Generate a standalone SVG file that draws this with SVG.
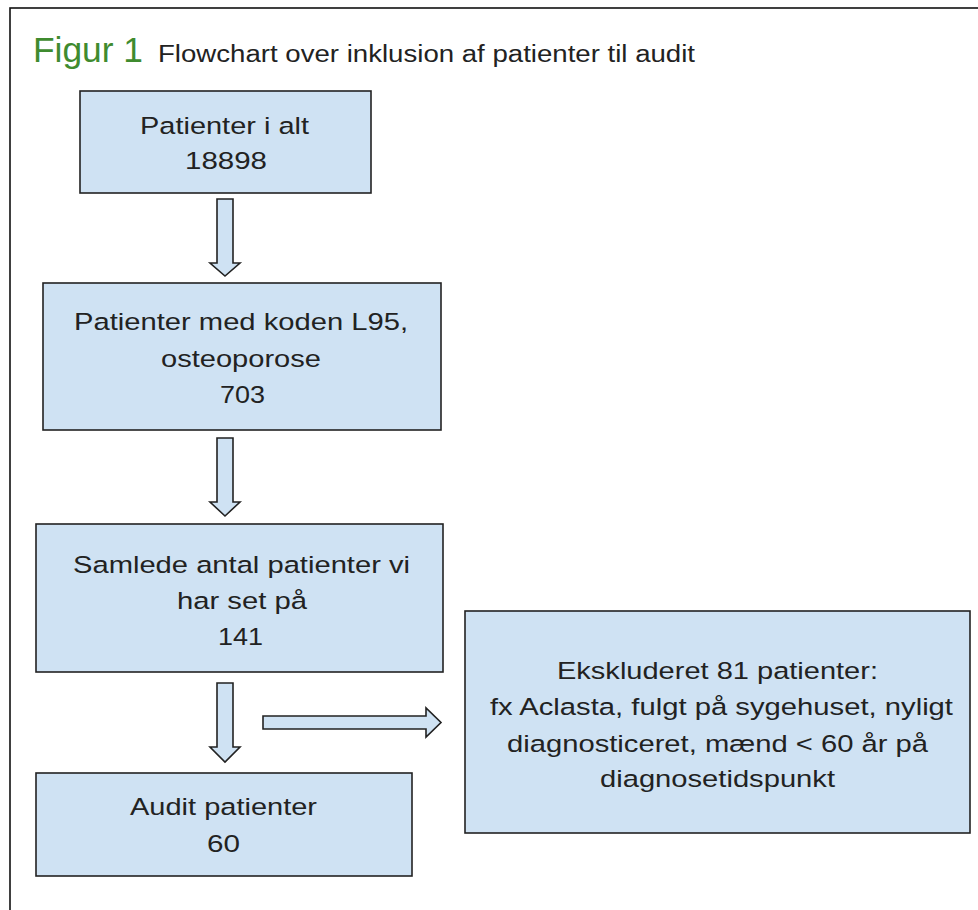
<svg xmlns="http://www.w3.org/2000/svg" width="978" height="910" viewBox="0 0 978 910">
<style>
.box{fill:#cfe2f3;stroke:#222;stroke-width:1.6}
.arr{fill:#cfe2f3;stroke:#222;stroke-width:1.6;stroke-linejoin:miter}
.t{font-family:"Liberation Sans",Arial,sans-serif;font-size:24.5px;fill:#222;text-anchor:middle}
.h{font-family:"Liberation Sans",Arial,sans-serif;font-size:23.5px;fill:#222}
.g{font-family:"Liberation Sans",Arial,sans-serif;font-size:35px;fill:#3f8b2f}
</style>
<rect x="10" y="8" width="980" height="920" fill="#fff" stroke="#111" stroke-width="1.6"/>
<g id="title">
<text class="g" x="33" y="62" textLength="110" lengthAdjust="spacingAndGlyphs">Figur 1</text>
<text class="h" x="158" y="62" textLength="537" lengthAdjust="spacingAndGlyphs">Flowchart over inklusion af patienter til audit</text>
</g>
<g id="connectors">
<path class="arr" d="M217,199 H233 V263 H240 L225,276 L210,263 H217 Z"/>
<path class="arr" d="M217,438 H233 V502 H240 L225,516 L210,502 H217 Z"/>
<path class="arr" d="M217,683 H233 V747 H240 L225,762 L210,747 H217 Z"/>
<path class="arr" d="M263,716 H426 V708 L441,722.5 L426,737 V729 H263 Z"/>
</g>
<g id="n1">
<rect class="box" x="80" y="91" width="291" height="102"/>
<text class="t" x="224.5" y="134" textLength="169" lengthAdjust="spacingAndGlyphs">Patienter i alt</text>
<text class="t" x="226" y="169" textLength="82" lengthAdjust="spacingAndGlyphs">18898</text>
</g>
<g id="n2">
<rect class="box" x="43" y="283" width="398" height="147"/>
<text class="t" x="241" y="330" textLength="334" lengthAdjust="spacingAndGlyphs">Patienter med koden L95,</text>
<text class="t" x="241" y="367" textLength="160" lengthAdjust="spacingAndGlyphs">osteoporose</text>
<text class="t" x="242.5" y="403" textLength="45" lengthAdjust="spacingAndGlyphs">703</text>
</g>
<g id="n3">
<rect class="box" x="36" y="524" width="407" height="148"/>
<text class="t" x="241.5" y="573" textLength="337" lengthAdjust="spacingAndGlyphs">Samlede antal patienter vi</text>
<text class="t" x="242" y="609" textLength="130" lengthAdjust="spacingAndGlyphs">har set på</text>
<text class="t" x="240.5" y="645" textLength="45" lengthAdjust="spacingAndGlyphs">141</text>
</g>
<g id="n4">
<rect class="box" x="36" y="773" width="376" height="103"/>
<text class="t" x="223.5" y="815" textLength="187" lengthAdjust="spacingAndGlyphs">Audit patienter</text>
<text class="t" x="223.5" y="852" textLength="33" lengthAdjust="spacingAndGlyphs">60</text>
</g>
<g id="n5">
<rect class="box" x="465" y="611" width="505" height="222"/>
<text class="t" x="717.5" y="679" textLength="321" lengthAdjust="spacingAndGlyphs">Ekskluderet 81 patienter:</text>
<text class="t" x="721.5" y="715" textLength="463" lengthAdjust="spacingAndGlyphs">fx Aclasta, fulgt på sygehuset, nyligt</text>
<text class="t" x="717.5" y="752" textLength="421" lengthAdjust="spacingAndGlyphs">diagnosticeret, mænd &lt; 60 år på</text>
<text class="t" x="717.5" y="787" textLength="235" lengthAdjust="spacingAndGlyphs">diagnosetidspunkt</text>
</g>
</svg>
